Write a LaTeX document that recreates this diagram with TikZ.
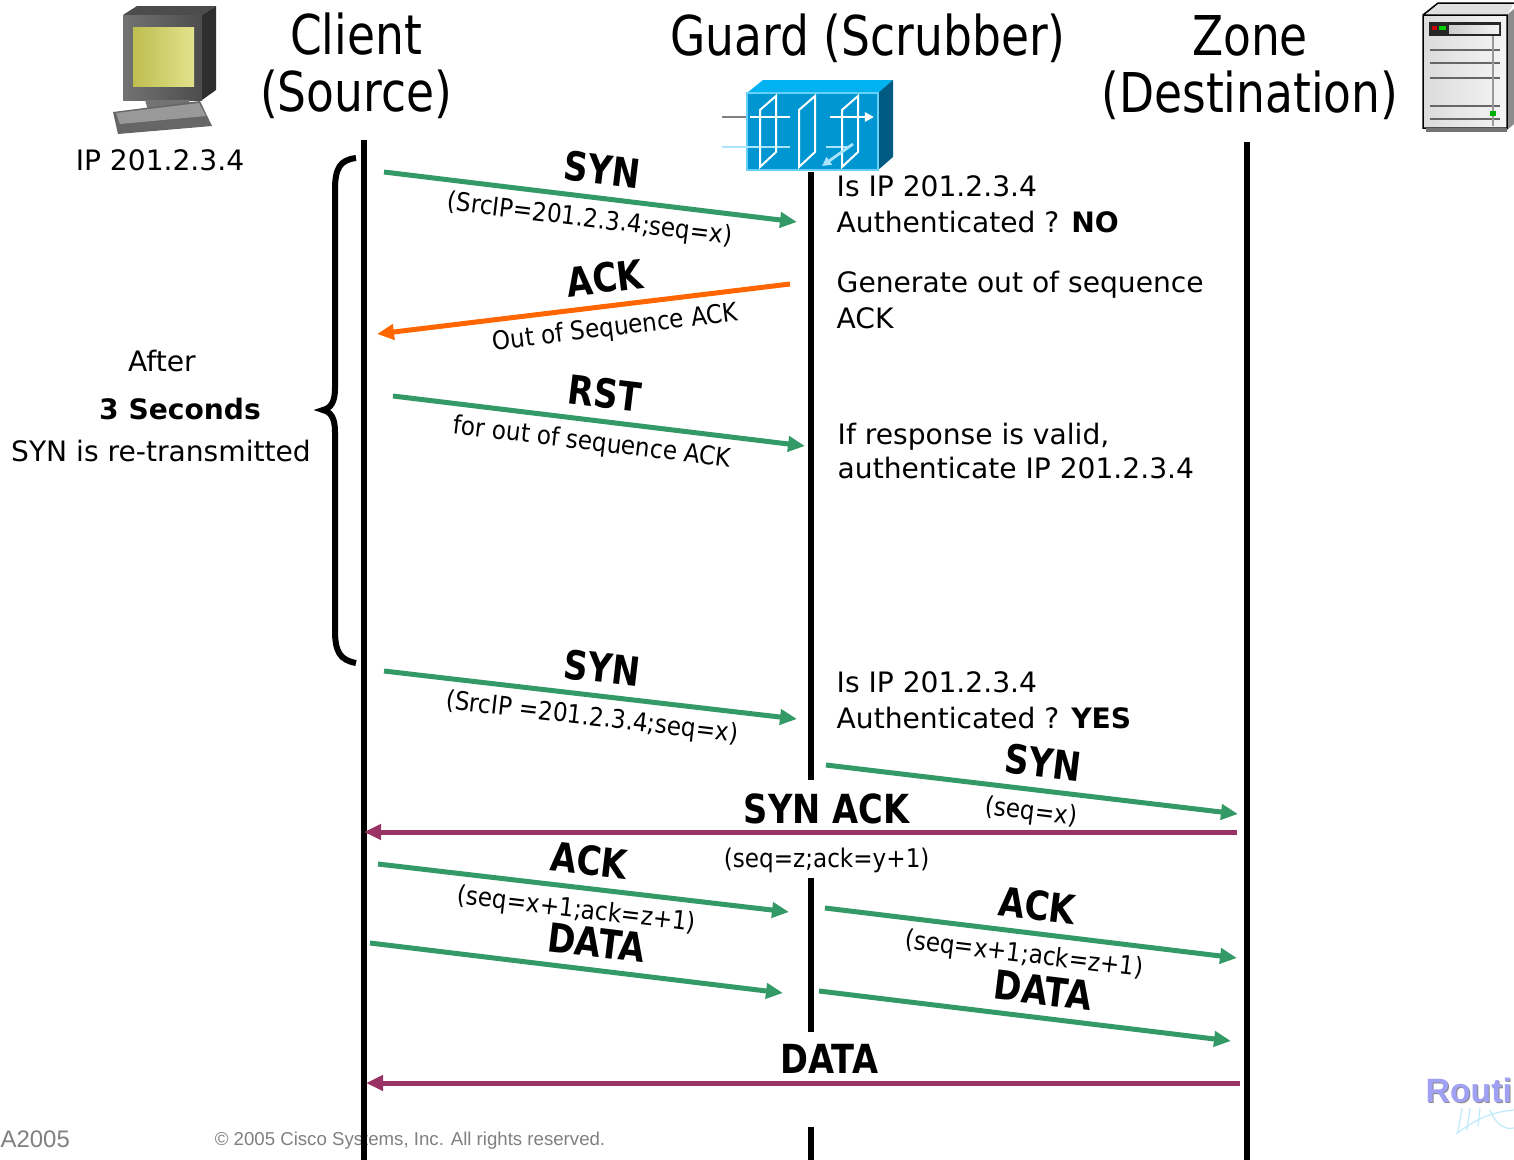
\documentclass[tikz,border=0pt]{standalone}
\usepackage{fontspec}
\setmainfont{DejaVu Sans}
\newfontfamily\headfont{DejaVu Sans}[FakeStretch=0.83]
\newfontfamily\msgfont{DejaVu Sans}[FakeStretch=0.84]
\newfontfamily\notefont{DejaVu Sans}[FakeStretch=0.9]
\newfontfamily\footfont{Liberation Sans}
\usetikzlibrary{arrows.meta, positioning}

\definecolor{msggreen}{RGB}{51,153,102}
\definecolor{msgorange}{RGB}{255,102,0}
\definecolor{msgpurple}{RGB}{153,51,102}
\definecolor{guardfront}{RGB}{0,150,210}
\definecolor{guardtop}{RGB}{0,178,240}
\definecolor{guardside}{RGB}{0,90,130}
\definecolor{wirelight}{RGB}{170,228,255}
\definecolor{screenl}{RGB}{190,190,80}
\definecolor{screenr}{RGB}{226,226,140}
\definecolor{logolav}{RGB}{160,160,245}

\tikzstyle{lifeline} = [line width=0.055cm, black]
\tikzstyle{msg} = [line width=0.05cm, -{Triangle[length=0.17cm,width=0.15cm]}]
\tikzstyle{fwd} = [msg, draw=msggreen]
\tikzstyle{rev} = [msg, draw=msgorange]
\tikzstyle{back} = [msg, draw=msgpurple]
\tikzstyle{msgname} = [font=\msgfont\fontsize{11.4}{12}\selectfont\bfseries, sloped, above=3pt, inner sep=0pt]
\tikzstyle{msgnote} = [font=\notefont\fontsize{7.3}{8}\selectfont, sloped, below=2.3pt, inner sep=0pt]
\tikzstyle{remark} = [font=\fontsize{8}{10.2}\selectfont, align=left, anchor=west, inner sep=0pt]
\tikzstyle{body} = [font=\fontsize{8}{10.2}\selectfont, inner sep=0pt]
\tikzstyle{head} = [font=\headfont\fontsize{15.6}{16.2}\selectfont, align=center, inner sep=0pt]
\tikzstyle{foot} = [font=\footfont, text=black!50, inner sep=0pt]

\begin{document}
\begin{tikzpicture}[x=0.01cm, y=-0.01cm]

\fill[white] (0,0) rectangle (1514,1160);
\useasboundingbox (0,0) rectangle (1514,1160);

% footer sits under the lifelines
\node[foot, anchor=west, font=\footfont\fontsize{6.8}{8}\selectfont] (slide) at (0,1139) {A2005};
\node[foot, font=\footfont\fontsize{5.3}{6}\selectfont] (copy) at (410,1141) {© 2005 Cisco Systems, Inc. All rights reserved.};

% client computer
\fill[black!70] (123,15) -- (137,6) -- (216,6) -- (202,15) -- cycle;
\fill[black!82] (202,15) -- (216,6) -- (216,90) -- (202,100) -- cycle;
\shade[left color=black!55, right color=black!70] (123,15) rectangle (202,100);
\shade[left color=screenl, right color=screenr] (133,27) rectangle (194,86);
\fill[black!55] (145,100) -- (190,100) -- (187,110) -- (148,110) -- cycle;
\fill[black!60] (113,112) -- (200,101) -- (212,126) -- (118,134) -- cycle;
\fill[black!40] (116,113) -- (199,103) -- (206,116) -- (120,124) -- cycle;

% guard appliance
\fill[guardtop] (747,93) -- (763,80) -- (893,80) -- (878,93) -- cycle;
\fill[guardside] (878,93) -- (893,80) -- (893,157) -- (878,170) -- cycle;
\fill[guardfront] (747,93) rectangle (878,170);
\draw[guardtop!60, line width=0.012cm] (747,93) rectangle (878,170);
\draw[black!50, line width=0.028cm] (722,117) -- (746,117);
\draw[wirelight, line width=0.028cm] (722,147) -- (790,147) (826,147) -- (848,147);
\foreach \x in {760,799,842}
  \draw[white, line width=0.02cm] (\x,110) -- (\x+16,96) -- (\x+16,152) -- (\x,167) -- cycle;
\draw[white, line width=0.028cm] (750,117) -- (790,117);
\draw[white, line width=0.028cm, -{Triangle[length=0.09cm,width=0.09cm]}] (830,117) -- (874,117);
\draw[wirelight, line width=0.028cm, -{Triangle[length=0.09cm,width=0.09cm]}] (853,144) -- (822,166);

% zone server
\fill[black!12] (1423,15) -- (1438,3) -- (1514,3) -- (1507,15) -- cycle;
\fill[black!45] (1507,15) -- (1514,9) -- (1514,124) -- (1507,130) -- cycle;
\shade[left color=black!14, right color=black!4] (1423,15) rectangle (1507,128);
\draw[black, line width=0.015cm] (1423,15) rectangle (1507,128) (1423,15) -- (1438,3) -- (1514,3);
\fill[black!85] (1429,22) rectangle (1501,36);
\shade[left color=black!20, right color=black!5] (1449,25) rectangle (1499,33);
\fill[red!80!black] (1432,26) rectangle (1437,30);
\fill[green!80!black] (1439,26) rectangle (1446,30);
\foreach \y in {50,63,78,106,119}
  \draw[black!60, line width=0.014cm] (1430,\y) -- (1500,\y);
\draw[black!40, line width=0.012cm] (1493,36) -- (1493,126);
\fill[green!70!black] (1490,111) rectangle (1496,116);
\fill[black!55] (1426,128) rectangle (1507,132);

% titles
\node[head] (client) at (356,66) {Client\\(Source)};
\node[head] (guard) at (868,38) {Guard (Scrubber)};
\node[head] (zone) at (1250,68) {Zone\\(Destination)};
\node[body] (srcip) at (160,160) {IP 201.2.3.4};

% lifelines
\coordinate (cltop) at (364,140);
\coordinate (clbot) at (364,1160);
\coordinate (gdtop) at (811,172);
\coordinate (gda) at (811,780);
\coordinate (gdb) at (811,878);
\coordinate (gdc) at (811,1032);
\coordinate (gdd) at (811,1127);
\coordinate (gdbot) at (811,1160);
\coordinate (zntop) at (1247,142);
\coordinate (znbot) at (1247,1160);
\draw[lifeline] (cltop) -- (clbot);
\draw[lifeline] (gdtop) -- (gda) (gdb) -- (gdc) (gdd) -- (gdbot);
\draw[lifeline] (zntop) -- (znbot);

% retransmit brace
\draw[line width=0.06cm] (356,158) .. controls (340,160) and (335,168) .. (335,190)
  -- (335,388) .. controls (335,402) and (331,408) .. (323,410)
  .. controls (331,412) and (335,418) .. (335,432)
  -- (335,630) .. controls (335,652) and (340,660) .. (356,663);
\node[body] (after) at (162,361) {After};
\node[body] (secs) at (180,409) {\textbf{3 Seconds}};
\node[body] (retx) at (161,451) {SYN is re-transmitted};

% message end points
\coordinate (s1a) at (384,172);  \coordinate (s1b) at (797,222);
\coordinate (k1a) at (790,284);  \coordinate (k1b) at (377,334);
\coordinate (r1a) at (393,396);  \coordinate (r1b) at (805,446);
\coordinate (s2a) at (384,671);  \coordinate (s2b) at (797,719);
\coordinate (s3a) at (826,765);  \coordinate (s3b) at (1238,814);
\coordinate (saa) at (1237,832); \coordinate (sab) at (364,832);
\coordinate (k2a) at (378,864);  \coordinate (k2b) at (789,912);
\coordinate (d1a) at (370,943);  \coordinate (d1b) at (783,993);
\coordinate (k3a) at (825,908);  \coordinate (k3b) at (1237,958);
\coordinate (d2a) at (819,991);  \coordinate (d2b) at (1231,1041);
\coordinate (d3a) at (1240,1083); \coordinate (d3b) at (366,1083);

% messages
\draw[fwd] (s1a) -- node[msgname, pos=0.52] {SYN} node[msgnote, pos=0.505] {(SrcIP=201.2.3.4;seq=x)} (s1b);
\draw[rev] (k1a) -- node[msgname, pos=0.44] {ACK} node[msgnote, pos=0.43] {Out of Sequence ACK} (k1b);
\draw[fwd] (r1a) -- node[msgname, pos=0.505] {RST} node[msgnote, pos=0.49] {for out of sequence ACK} (r1b);
\draw[fwd] (s2a) -- node[msgname, pos=0.52] {SYN} node[msgnote, pos=0.51] {(SrcIP =201.2.3.4;seq=x)} (s2b);
\draw[fwd] (s3a) -- node[msgname, pos=0.52] {SYN} node[msgnote, pos=0.505] {(seq=x)} (s3b);
\draw[back] (saa) -- node[msgname, pos=0.47, above=1.6pt] {SYN ACK} node[msgnote, pos=0.47, below=3.7pt] {(seq=z;ack=y+1)} (sab);
\draw[fwd] (k2a) -- node[msgname, pos=0.506] {ACK} node[msgnote, pos=0.49] {(seq=x+1;ack=z+1)} (k2b);
\draw[fwd] (d1a) -- node[msgname, pos=0.54] {DATA} (d1b);
\draw[fwd] (k3a) -- node[msgname, pos=0.507] {ACK} node[msgnote, pos=0.49] {(seq=x+1;ack=z+1)} (k3b);
\draw[fwd] (d2a) -- node[msgname, pos=0.536] {DATA} (d2b);
\draw[back] (d3a) -- node[msgname, pos=0.47, above=2pt] {DATA} (d3b);

% guard decisions
\node[remark] (auth1) at (836,204) {Is IP 201.2.3.4\\Authenticated ? \textbf{NO}};
\node[remark] (outack) at (836,300) {Generate out of sequence\\ACK};
\node[remark, font=\fontsize{8}{9.7}\selectfont] (valid) at (837,451) {If response is valid,\\authenticate IP 201.2.3.4};
\node[remark] (auth2) at (836,700) {Is IP 201.2.3.4\\Authenticated ? \textbf{YES}};

% logo corner
\begin{scope}
  \clip (0,0) rectangle (1514,1160);
  \draw[cyan!25, line width=0.012cm] (1456,1134) .. controls (1475,1120) and (1490,1112) .. (1514,1110)
    (1462,1108) -- (1458,1132) (1470,1108) -- (1467,1130) (1480,1108) -- (1478,1126)
    (1490,1110) .. controls (1496,1125) and (1505,1130) .. (1514,1128);
  \node[foot, anchor=west, text=black!45, font=\footfont\bfseries\fontsize{9.6}{12}\selectfont] (logoshade) at (1426,1091) {Routi};
  \node[foot, anchor=west, text=logolav, font=\footfont\bfseries\fontsize{9.6}{12}\selectfont] (logo) at (1425,1090) {Routi};
\end{scope}

\end{tikzpicture}
\end{document}
